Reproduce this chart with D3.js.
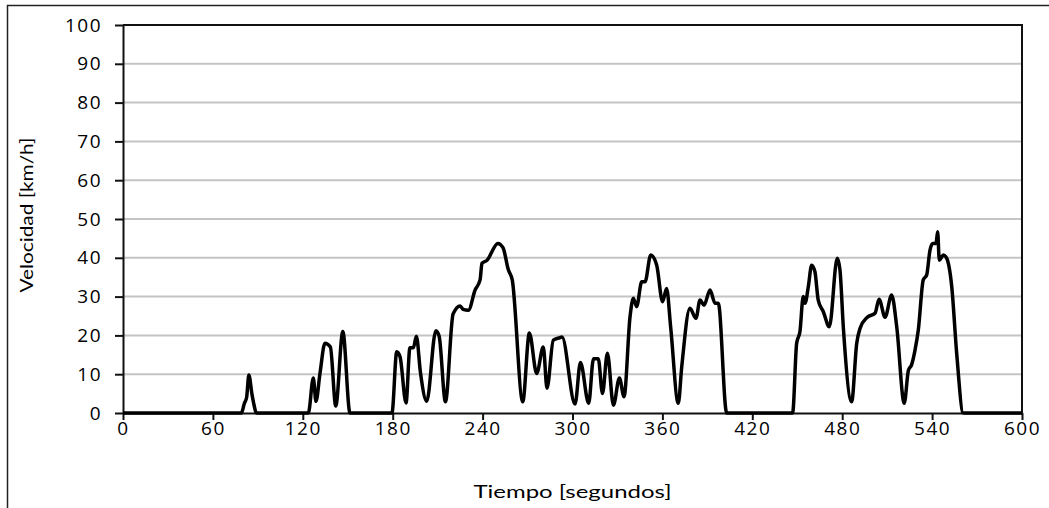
<!DOCTYPE html>
<html>
<head>
<meta charset="utf-8">
<script src="https://cdn.jsdelivr.net/npm/d3@7"></script>
<style>
  body { margin: 0; background: #fff; }
  .tick text { font-family: "Open Sans", sans-serif; font-size: 19px; letter-spacing: 1.5px; fill: #000; }
  .title { font-family: Lato, "Open Sans", sans-serif; font-size: 18px; fill: #000; }
</style>
</head>
<body>
<div id="chart-area"></div>
<script>
// tiempo [s]
const tiempo = [
  0, 79, 81, 82.5, 84, 86, 87.5, 89,
  123.7, 127, 128.8, 131.5, 134.8, 138.4, 142, 146.7, 151.5,
  179.5, 182.7, 184.9, 188.9, 191.5, 193.8, 195.8, 198.5, 202.7, 208.8,
  211, 215.2, 220.3, 225, 227, 230.5, 235, 238.3, 239.6, 242.8,
  250.2, 253.6, 257.2, 259.8, 266.8, 271.2, 276.1, 280.5, 283, 287.2,
  291.5, 293, 301.7, 305.3, 310.8, 314, 317.2, 320, 323.3, 327.3,
  331.3, 334.4, 338.4, 340.6, 342.8, 346.2, 348.4, 352.2, 356.2, 360.1,
  362.8, 365.5, 370.6, 372.9, 378.4, 382.4, 385.1, 387.8, 391.8, 395.1,
  397.3, 402.9,
  446.9, 449.6, 451.8, 454, 455.2, 457.4, 459.6, 461.8, 464, 467.4,
  471.4, 476.7, 478.5, 480.8, 486.3, 489.7, 491.9, 496.8, 501.9, 504.6,
  508.6, 513, 516.4, 521.4, 524.2, 526.3, 528.6, 530.8, 534.1, 536.4,
  538.6, 540.4, 542.6, 543.7, 544.8, 547.5, 549.7, 553.1, 556.4, 560.8,
  600
]

// velocidad [km/h]
const velocidad = [
  0, 0, 2.5, 4, 9.8, 5, 2, 0,
  0, 9, 3, 10.3, 18, 17, 1.8, 21, 0,
  0, 15.8, 14.5, 2.6, 16.8, 16.8, 19.8, 10.5, 3, 21.2,
  19.8, 2.9, 25.5, 27.6, 26.7, 26.5, 31.7, 34.3, 38.6, 39.3,
  43.7, 42.6, 36.9, 34.3, 2.9, 20.6, 10.2, 17, 6.4, 18.8,
  19.4, 19.6, 2.3, 13, 2.5, 14, 14, 5, 15.4, 2,
  9, 4.2, 24.8, 29.6, 27.4, 33.8, 33.8, 40.7, 38.1, 28.7,
  32.1, 22.2, 2.5, 11.9, 27, 24.4, 29.1, 27.8, 31.7, 28.3,
  28.3, 0,
  0, 18, 21, 30, 28.3, 32.6, 38.1, 36.4, 29.1, 26.1,
  22.2, 39.9, 36.9, 21.8, 2.9, 18, 21.8, 24.7, 25.7, 29.3,
  24.7, 30.4, 22.2, 2.5, 11, 12.4, 16.2, 21.4, 34.3, 35.6,
  42, 43.7, 43.7, 46.7, 39.4, 40.7, 39.9, 32.6, 15.4, 0,
  0
]

const xTicks = [0, 60, 120, 180, 240, 300, 360, 420, 480, 540, 600]
const yTicks = [0, 10, 20, 30, 40, 50, 60, 70, 80, 90, 100]

const w = 1049
const h = 508
const mLeft = 123, mRight = 1022, mTop = 25, mBottom = 413

const datos = tiempo.map((t, i) => ({ t: t, v: velocidad[i] }))

const svg = d3.select("#chart-area")
  .append("svg")
  .attr("width", w)
  .attr("height", h)

// marco exterior
svg.append("rect")
  .attr("x", 7.5)
  .attr("y", 5.5)
  .attr("width", 1100)
  .attr("height", 600)
  .attr("fill", "none")
  .attr("stroke", "#222")
  .attr("stroke-width", 1.5)

const x = d3.scaleLinear().domain([0, 600]).range([mLeft, mRight])
const y = d3.scaleLinear().domain([0, 100]).range([mBottom, mTop])

// rejilla
svg.append("g")
  .selectAll("line")
  .data(yTicks.filter(d => d > 0 && d < 100))
  .enter()
  .append("line")
  .attr("x1", mLeft)
  .attr("x2", mRight)
  .attr("y1", d => y(d))
  .attr("y2", d => y(d))
  .attr("stroke", "#c4c4c4")
  .attr("stroke-width", 2)

// borde superior y derecho
svg.append("path")
  .attr("d", `M${mLeft},${mTop}H${mRight}V${mBottom}`)
  .attr("fill", "none")
  .attr("stroke", "#111")
  .attr("stroke-width", 2)

const xAxis = svg.append("g")
  .attr("transform", `translate(0,${mBottom})`)
  .call(d3.axisBottom(x).tickValues(xTicks).tickSize(7).tickPadding(2).tickSizeOuter(0))
xAxis.select(".domain").attr("stroke", "#111").attr("stroke-width", 2)
xAxis.selectAll(".tick line").attr("stroke", "#111").attr("stroke-width", 2)

const yAxis = svg.append("g")
  .attr("transform", `translate(${mLeft},0)`)
  .call(d3.axisLeft(y).tickValues(yTicks).tickSize(8).tickPadding(13).tickSizeOuter(0))
yAxis.select(".domain").attr("stroke", "#111").attr("stroke-width", 2)
yAxis.selectAll(".tick line").attr("stroke", "#111").attr("stroke-width", 2)

const line = d3.line()
  .x(d => x(d.t))
  .y(d => y(d.v))
  .curve(d3.curveMonotoneX)

svg.append("path")
  .datum(datos)
  .attr("d", line)
  .attr("fill", "none")
  .attr("stroke", "#000")
  .attr("stroke-width", 3.5)
  .attr("stroke-linejoin", "round")

svg.append("text")
  .attr("class", "title")
  .attr("x", (mLeft + mRight) / 2)
  .attr("y", 498)
  .attr("text-anchor", "middle")
  .attr("textLength", 198)
  .attr("lengthAdjust", "spacingAndGlyphs")
  .text("Tiempo [segundos]")

svg.append("text")
  .attr("class", "title")
  .attr("transform", "translate(33,215) rotate(-90)")
  .attr("text-anchor", "middle")
  .attr("textLength", 155)
  .attr("lengthAdjust", "spacingAndGlyphs")
  .text("Velocidad [km/h]")
</script>
</body>
</html>
